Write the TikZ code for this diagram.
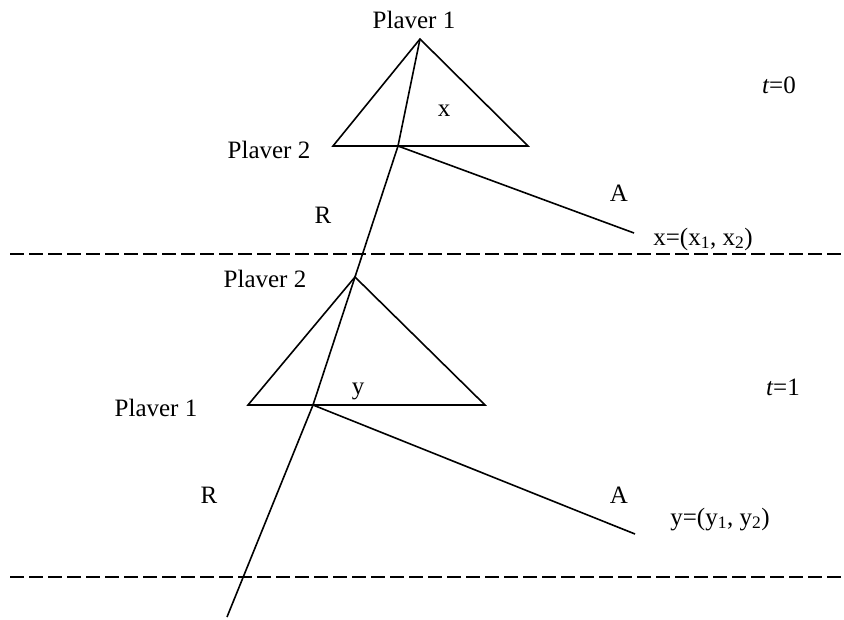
\documentclass[tikz,border=0pt]{standalone}
\usepackage{fontspec}
\setmainfont{Liberation Serif}
\usepackage{tikz}
\usetikzlibrary{positioning}
\tikzset{
  treeline/.style={draw=black,line width=1.6pt},
  periodline/.style={draw=black,line width=1.6pt,dash pattern=on 14pt off 5pt},
  lbl/.style={inner sep=0pt,anchor=base,font=\fontsize{25}{30}\selectfont},
}
\newcommand{\gtri}[3]{\draw[treeline] (#1) -- (#2) -- (#3) -- cycle;}

\begin{document}
\begin{tikzpicture}[x=1pt,y=-1pt]
        \useasboundingbox (0,0) rectangle (844,619);
        % decision points and triangle corners
        \coordinate (p1a) at (420,39);
        \coordinate (p2a) at (398,146);
        \coordinate (p2b) at (355,277);
        \coordinate (p1b) at (313,405);
        \coordinate (tla) at (333,146);
        \coordinate (tra) at (528,146);
        \coordinate (tlb) at (248,405);
        \coordinate (trb) at (485,405);
        \coordinate (acca) at (634,233);
        \coordinate (accb) at (635,534);
        \coordinate (rend) at (227,617);
        \coordinate (d0l) at (10,254);  \coordinate (d0r) at (844,254);
        \coordinate (d1l) at (10,577);  \coordinate (d1r) at (844,577);
        \gtri{p1a}{tla}{tra}
        \gtri{p2b}{tlb}{trb}
        \draw[treeline] (p1a) -- (p2a) -- (p2b) -- (p1b) -- (rend);
        \draw[treeline] (p2a) -- (acca);
        \draw[treeline] (p1b) -- (accb);
        \draw[periodline] (d0l) -- (d0r);
        \draw[periodline] (d1l) -- (d1r);
        % labels
        \node[lbl] (l1a) at (414,28) {Plaver 1};
        \node[lbl] (ofx) at (444,116) {x};
        \node[lbl] (l2a) at (269,158) {Plaver 2};
        \node[lbl] (ra) at (323,223) {R};
        \node[lbl] (aa) at (619,201) {A};
        \node[lbl] (vx) at (703,245) {x=(x\textsubscript{1}, x\textsubscript{2})};
        \node[lbl] (t0) at (779,93) {\itshape t\upshape =0};
        \node[lbl] (l2b) at (265,287) {Plaver 2};
        \node[lbl] (ofy) at (358,394) {y};
        \node[lbl] (l1b) at (156,416) {Plaver 1};
        \node[lbl] (t1) at (783,395) {\itshape t\upshape =1};
        \node[lbl] (rb) at (209,503) {R};
        \node[lbl] (ab) at (619,503) {A};
        \node[lbl] (vy) at (720,525) {y=(y\textsubscript{1}, y\textsubscript{2})};
\end{tikzpicture}
\end{document}
